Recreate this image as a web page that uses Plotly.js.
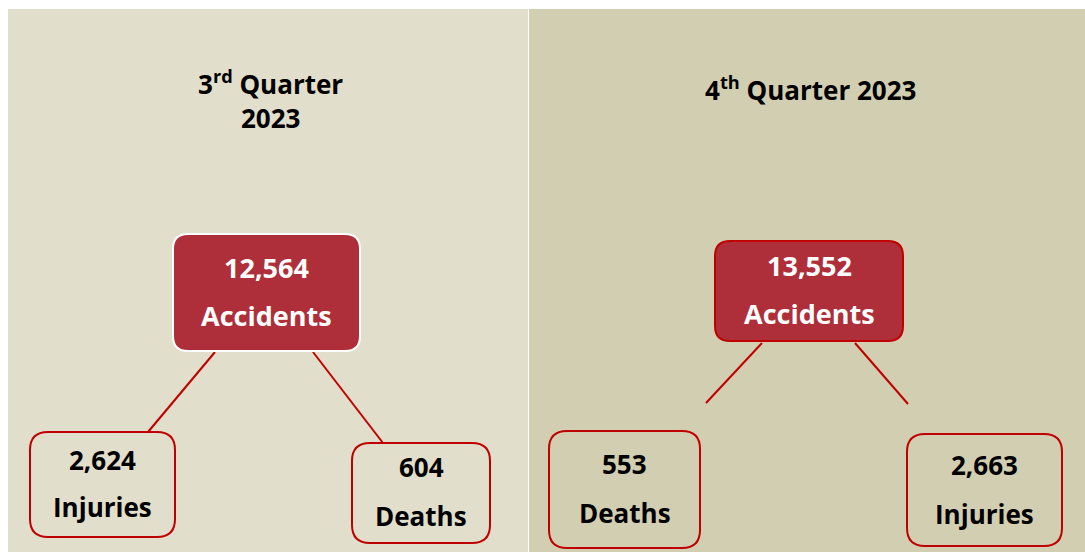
<!DOCTYPE html>
<html>
<head>
<meta charset="utf-8">
<script src="https://cdn.plot.ly/plotly-3.0.1.min.js"></script>
<style>html,body{margin:0;padding:0;background:#fff;}#chart{width:1085px;height:552px;}</style>
</head>
<body>
<div id="chart"></div>
<script>
// ---- data ----
const quarterTitleLines = [['3<sup>rd</sup> Quarter', '2023'], ['4<sup>th</sup> Quarter 2023']];
const accidents = [12564, 13552];
const injuries = [2624, 2663];
const deaths = [604, 553];
const labelAccidents = 'Accidents';
const labelInjuries = 'Injuries';
const labelDeaths = 'Deaths';

// ---- layout geometry (pixels) ----
const W = 1085, H = 552;
const panels = [
  {x0: 8, x1: 528, y0: 9, y1: 552, color: '#E1DECB', titleX: 270, titleYs: [83, 118],
   acc: {x0: 173, x1: 360, y0: 234, y1: 351, fill: '#AE2E3A', line: '#FFFFFF', ty: [267, 315]},
   inj: {x0: 30, x1: 175, y0: 432, y1: 537, ty: [460, 507]},
   dth: {x0: 352, x1: 490, y0: 443, y1: 543, ty: [467, 516]},
   lines: [[215, 352, 148, 432], [313, 352, 383, 443]]},
  {x0: 529, x1: 1085, y0: 9, y1: 552, color: '#D2CEB1', titleX: 810, titleYs: [89],
   acc: {x0: 715, x1: 903, y0: 241, y1: 341, fill: '#AE2E3A', line: '#C00000', ty: [265, 313]},
   dth: {x0: 549, x1: 700, y0: 431, y1: 548, ty: [464, 513]},
   inj: {x0: 907, x1: 1062, y0: 434, y1: 546, ty: [465, 514]},
   lines: [[762, 343, 706, 403], [855, 343, 908, 404]]}
];

function rr(b, r) {
  const {x0, x1, y0, y1} = b;
  return `M${x0 + r},${y0} L${x1 - r},${y0} Q${x1},${y0} ${x1},${y0 + r} L${x1},${y1 - r} Q${x1},${y1} ${x1 - r},${y1} L${x0 + r},${y1} Q${x0},${y1} ${x0},${y1 - r} L${x0},${y0 + r} Q${x0},${y0} ${x0 + r},${y0} Z`;
}
const fmt = v => v.toLocaleString('en-US');
const FONT = 'Open Sans, Noto Sans, sans-serif';

const shapes = [];
const annotations = [];
function txt(x, y, s, size, color) {
  annotations.push({x: x, y: y, xref: 'x', yref: 'y', text: '<b>' + s + '</b>', showarrow: false,
    xanchor: 'center', yanchor: 'middle', font: {family: FONT, size: size, color: color}});
}
panels.forEach((p, i) => {
  shapes.push({type: 'rect', xref: 'x', yref: 'y', x0: p.x0, x1: p.x1, y0: p.y0, y1: p.y1,
    fillcolor: p.color, line: {width: 0}, layer: 'below'});
  p.lines.forEach(l => shapes.push({type: 'line', xref: 'x', yref: 'y', x0: l[0], y0: l[1], x1: l[2], y1: l[3],
    line: {color: '#C00000', width: 2}}));
  shapes.push({type: 'path', xref: 'x', yref: 'y', path: rr(p.acc, 15), fillcolor: p.acc.fill,
    line: {color: p.acc.line, width: 2}});
  shapes.push({type: 'path', xref: 'x', yref: 'y', path: rr(p.inj, 18), fillcolor: 'rgba(0,0,0,0)',
    line: {color: '#C00000', width: 2}});
  shapes.push({type: 'path', xref: 'x', yref: 'y', path: rr(p.dth, 18), fillcolor: 'rgba(0,0,0,0)',
    line: {color: '#C00000', width: 2}});

  quarterTitleLines[i].forEach((t, k) => txt(p.titleX, p.titleYs[k], t, 26, '#000000'));

  const cx = (p.acc.x0 + p.acc.x1) / 2;
  txt(cx, p.acc.ty[0], fmt(accidents[i]), 27, '#FFFFFF');
  txt(cx, p.acc.ty[1], labelAccidents, 27, '#FFFFFF');

  const ix = (p.inj.x0 + p.inj.x1) / 2;
  txt(ix, p.inj.ty[0], fmt(injuries[i]), 26, '#000000');
  txt(ix, p.inj.ty[1], labelInjuries, 26, '#000000');

  const dx = (p.dth.x0 + p.dth.x1) / 2;
  txt(dx, p.dth.ty[0], fmt(deaths[i]), 26, '#000000');
  txt(dx, p.dth.ty[1], labelDeaths, 26, '#000000');
});

const layout = {
  width: W, height: H,
  margin: {l: 0, r: 0, t: 0, b: 0, pad: 0},
  paper_bgcolor: '#FFFFFF', plot_bgcolor: 'rgba(0,0,0,0)',
  xaxis: {range: [0, W], visible: false, fixedrange: true},
  yaxis: {range: [H, 0], visible: false, fixedrange: true},
  showlegend: false,
  shapes: shapes,
  annotations: annotations
};

Plotly.newPlot('chart', [{x: [], y: [], type: 'scatter', hoverinfo: 'skip'}], layout, {displayModeBar: false, staticPlot: true});
</script>
</body>
</html>
